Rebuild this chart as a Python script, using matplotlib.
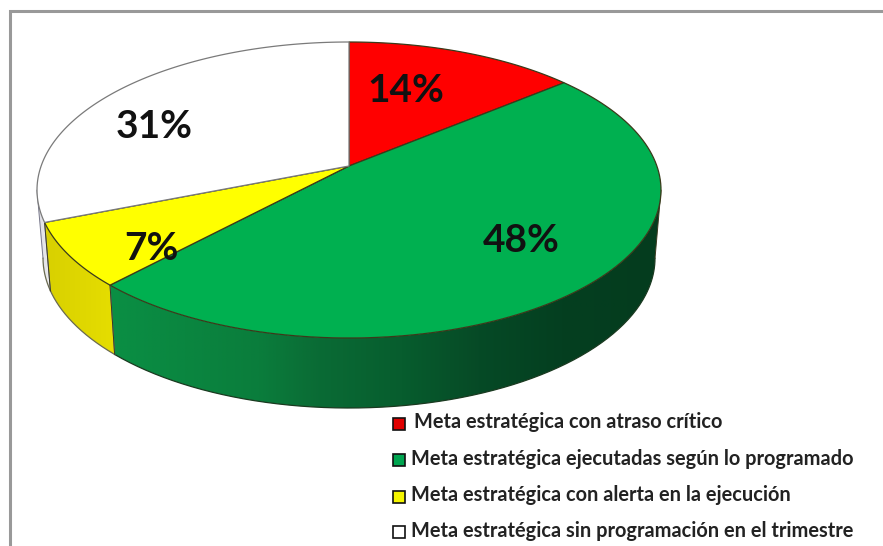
# -*- coding: utf-8 -*-
"""Pie with perspective, metas estratégicas por estado."""

import numpy as np
import matplotlib.pyplot as plt
from matplotlib.colors import LinearSegmentedColormap
from matplotlib.patches import Polygon

# %% data

labels = [
    "Meta estratégica con atraso crítico",
    "Meta estratégica ejecutadas según lo programado",
    "Meta estratégica con alerta en la ejecución",
    "Meta estratégica sin programación en el trimestre",
]
values = [14, 48, 7, 31]
pct_labels = ["14%", "48%", "7%", "31%"]
top_colours = ["#ff0000", "#00b050", "#ffff00", "#ffffff"]

# %% geometry of the tilted disc, in pixels

CX = 349
TOP_CY, TOP_RX, TOP_RY = 190, 312, 148
LOW_CY, LOW_RX, LOW_RY = 258, 306, 150
V = 0.162  # shift of the apex, from the perspective
APEX = (349, 166)


def project(theta):
    # circle point -> normalised ellipse point, boost moves centre to the apex
    s, c = np.sin(theta), np.cos(theta)
    d = 1 + V * c
    return s * np.sqrt(1 - V**2) / d, (c + V) / d


def rim(theta, cy, rx, ry):
    x, y = project(theta)
    return CX + rx * x, cy - ry * y


wall_cmaps = [
    LinearSegmentedColormap.from_list("r", ["#a00000", "#600000"]),
    LinearSegmentedColormap.from_list(
        "g",
        [
            (0, "#0a8f44"),
            (0.27, "#0a7d3c"),
            (0.38, "#0a6b35"),
            (0.53, "#075d2e"),
            (0.67, "#064a26"),
            (0.82, "#043f20"),
            (1, "#043c1e"),
        ],
    ),
    LinearSegmentedColormap.from_list("y", ["#d8d000", "#e6de00"]),
    LinearSegmentedColormap.from_list("w", ["#dcdce4", "#eeeeee"]),
]

plt.rc("font", family=["Lato", "DejaVu Sans"])
fig = plt.figure(figsize=(8.83, 5.46), dpi=100)
ax = fig.add_axes([0, 0, 1, 1])
ax.axis("off")

# frame of the picture
ax.plot([10, 10, 883], [546, 11, 11], c="#999999", lw=2.2, solid_joinstyle="miter")

edges = np.cumsum([0] + values) / sum(values) * 2 * np.pi

# only the front of the wall shows, between the two side extremes of the rim
grid = np.linspace(0, 2 * np.pi, 2000)
theta_right = grid[np.argmax(project(grid)[0])]
theta_left = grid[np.argmin(project(grid)[0])]

# %% side wall first, the top covers whatever is behind

for i in range(len(values)):
    t0 = max(edges[i], theta_right)
    t1 = min(edges[i + 1], theta_left)
    if t1 <= t0:
        continue
    ts = np.linspace(t0, t1, 200)
    x_up, y_up = rim(ts, TOP_CY, TOP_RX, TOP_RY)
    x_lo, y_lo = rim(ts, LOW_CY, LOW_RX, LOW_RY)
    xs = np.r_[x_up, x_lo[::-1]]
    ys = np.r_[y_up, y_lo[::-1]]
    im = ax.imshow(
        np.linspace(0, 1, 256)[None, :],
        extent=(xs.min(), xs.max(), ys.max(), ys.min()),
        cmap=wall_cmaps[i],
        aspect="auto",
    )
    im.set_clip_path(Polygon(np.c_[xs, ys], transform=ax.transData))
    ax.plot(x_lo, y_lo, c="#1a3a20" if i == 1 else "#6a6a50", lw=0.9)
    ax.plot(
        [x_up[0], x_lo[0]], [y_up[0], y_lo[0]], c="#3a3a20", lw=0.7, zorder=2.5
    )
    ax.plot(
        [x_up[-1], x_lo[-1]], [y_up[-1], y_lo[-1]], c="#77778a", lw=0.7, zorder=2.5
    )

# %% top surface

for i in range(len(values)):
    ts = np.linspace(edges[i], edges[i + 1], 120)
    x, y = rim(ts, TOP_CY, TOP_RX, TOP_RY)
    ax.fill(
        np.r_[APEX[0], x],
        np.r_[APEX[1], y],
        fc=top_colours[i],
        ec="#7a7a7a" if i == 3 else "#3a3a1a",
        lw=0.9,
        zorder=3,
    )

# %% percent labels

pct_x = [406, 521, 151, 154]
pct_y = [91, 240, 248, 126]
for px, py, txt in zip(pct_x, pct_y, pct_labels):
    ax.text(px, py, txt, ha="center", va="center", fontsize=28, weight="bold",
            color="#111111", zorder=5)

# %% legend by hand, the entries are not evenly placed

text_x = [414, 411, 411, 411]
text_y = [422, 459, 495, 531]
box_y = [424, 460, 497, 532]
box_colours = ["#e00000", "#00a550", "#f5f500", "#ffffff"]
for i, txt in enumerate(labels):
    ax.plot(398.5, box_y[i], "s", ms=9, mfc=box_colours[i], mec="#111111", mew=1.2)
    ax.text(text_x[i], text_y[i], txt, ha="left", va="center", fontsize=14.4,
            weight="bold", color="#222222")

ax.set_xlim(0, 883)
ax.set_ylim(546, 0)

fig.savefig("out.png", dpi=100)
